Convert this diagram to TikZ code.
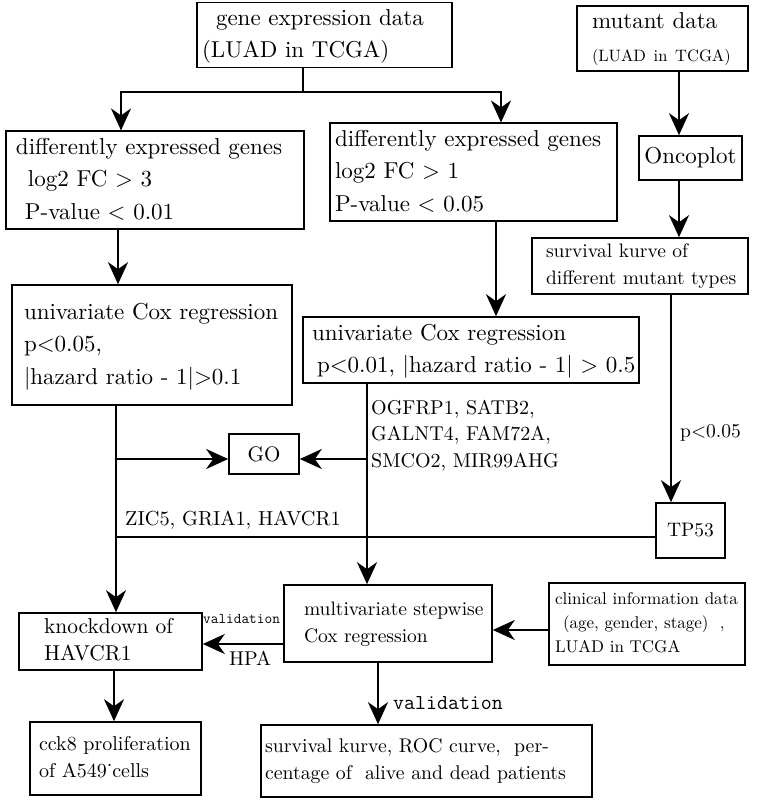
\documentclass[tikz,border=0pt]{standalone}
\usepackage{fontspec}
\setmainfont{lmroman10-regular.otf}
\usetikzlibrary{arrows.meta}
\newcommand\fA{\fontsize{23}{32.5}\selectfont}
\newcommand\fB{\fontsize{19.5}{27}\selectfont}
\newcommand\fC{\fontsize{16.5}{24}\selectfont}
\newcommand\TL[1]{\begin{tabular}{@{}l@{}}#1\end{tabular}}
\newcommand\TLt[1]{\begin{tabular}[t]{@{}l@{}}#1\end{tabular}}
\tikzset{
  box/.style={draw, line width=1.6pt, inner sep=0pt},
  ln/.style={line width=2.6pt},
  arr/.style={line width=2.6pt, -{Stealth[length=22pt,width=20pt,inset=7pt]}},
  lab/.style={inner sep=0pt, anchor=base west}
}
\begin{document}
\begin{tikzpicture}[x=1pt,y=-1pt]
\useasboundingbox (0,0) rectangle (756,804);
% boxes
\node[box, minimum width=255, minimum height=56, text width=245, align=left, font=\fA] (gene) at (324.5,35) {\TL{\hspace{14pt}gene expression data\\(LUAD in TCGA)}};
\node[box, minimum width=298, minimum height=94, text width=278, align=left, font=\fA] (degL) at (155,180) {\TL{differently expressed genes\\\hspace{12pt}log2 FC > 3\\\hspace{9pt}P-value < 0.01}};
\node[box, minimum width=287, minimum height=94, text width=277, align=left, font=\fA] (degR) at (473.5,172) {\TL{differently expressed genes\\log2 FC > 1\\P-value < 0.05}};
\node[box, minimum width=280, minimum height=120, text width=256, align=left, font=\fA] (coxL) at (152,345) {\TL{univariate Cox regression\\p<0.05,\\|hazard ratio - 1|>0.1}};
\node[box, minimum width=336, minimum height=66, text width=318, align=left, font=\fA] (coxR) at (471,350) {\TL{univariate Cox regression\\\hspace{5pt}p<0.01, |hazard ratio - 1| > 0.5}};
\node[box, minimum width=171, minimum height=59, text width=141, align=left, font=\fA] (mut) at (662.5,38.5) {\TL{mutant data\\{\fC(LUAD in TCGA)}}};
\node[box, minimum width=103, minimum height=44, align=center, font=\fA] (onco) at (690.5,158) {Oncoplot};
\node[box, minimum width=216, minimum height=56, text width=188, align=left, font=\fB] (surv) at (640,266) {\TL{survival kurve of\\different mutant types}};
\node[box, minimum width=70, minimum height=40, align=center, font=\fontsize{21}{26}\selectfont] (go) at (264,454) {GO};
\node[box, minimum width=69, minimum height=55, align=center, font=\fB] (tp53) at (690.5,530.5) {TP53};
\node[box, minimum width=208, minimum height=77, text width=168, align=left, font=\fB] (multi) at (388,623.5) {\TL{multivariate stepwise\\Cox regression}};
\node[box, minimum width=196, minimum height=82, text width=184, align=left, font=\fontsize{17}{24}\selectfont] (clin) at (647,624) {\TL{clinical information data\\\hspace{8pt}(age, gender, stage)\ \ ,\\LUAD in TCGA}};
\node[box, minimum width=183, minimum height=57, text width=133, align=left, font=\fontsize{21.5}{27}\selectfont] (knock) at (110.5,641.5) {\TL{knockdown of\\HAVCR1}};
\node[box, minimum width=171, minimum height=73, text width=153, align=left, font=\fontsize{20}{27}\selectfont] (cck) at (115.5,758.5) {\TL{cck8 proliferation\\of A549˙cells}};
\node[box, minimum width=331, minimum height=72, text width=323, align=left, font=\fontsize{19.8}{27}\selectfont] (bot) at (426.5,761) {\TL{survival kurve, ROC curve,\ \ per-\\centage of\ \ alive and dead patients}};
% helper coordinates
\coordinate (jA) at (303,92);
\coordinate (xL) at (121,0);
\coordinate (xR) at (501,0);
\coordinate (x118) at (118,0);
\coordinate (x496) at (496,0);
\coordinate (x679) at (679,0);
\coordinate (x671) at (671,0);
\coordinate (x116) at (116,0);
\coordinate (x367) at (367,0);
\coordinate (x114) at (114,0);
\coordinate (x378) at (378,0);
\coordinate (jGL) at (116,459);
\coordinate (jGR) at (367,459);
\coordinate (jT) at (116,537);
\coordinate (jH) at (284,644);
\coordinate (jC) at (549,630);
% connectors
\draw[ln] (gene.south -| jA) -- (jA);
\draw[arr] (jA) -| (degL.north -| xL);
\draw[arr] (jA) -| (degR.north -| xR);
\draw[arr] (degL.south -| x118) -- (coxL.north -| x118);
\draw[arr] (degR.south -| x496) -- (coxR.north -| x496);
\draw[arr] (mut.south -| x679) -- (onco.north -| x679);
\draw[arr] (onco.south -| x679) -- (surv.north -| x679);
\draw[arr] (surv.south -| x671) -- (tp53.north -| x671);
\draw[arr] (coxL.south -| x116) -- (knock.north -| x116);
\draw[arr] (jGL) -- (jGL -| go.west);
\draw[arr] (coxR.south -| x367) -- (multi.north -| x367);
\draw[arr] (jGR) -- (jGR -| go.east);
\draw[line width=2.2pt] (jT -| tp53.west) -- (jT);
\draw[arr] (jH) -- (jH -| knock.east);
\draw[arr] (jC) -- (jC -| multi.east);
\draw[arr] (knock.south -| x114) -- (cck.north -| x114);
\draw[arr] (multi.south -| x378) -- (bot.north -| x378);
% labels
\node[lab, align=left, font=\fontsize{20}{26.5}\selectfont] (genes) at (371,414) {\TLt{OGFRP1, SATB2,\\GALNT4, FAM72A,\\SMCO2, MIR99AHG}};
\node[lab, font=\fontsize{20.3}{26}\selectfont] (zic) at (125,525) {ZIC5, GRIA1, HAVCR1};
\node[lab, font=\fontsize{19.5}{26}\selectfont] (pval) at (680,437) {p<0.05};
\node[lab, font=\fontsize{14.9}{18}\selectfont\ttfamily] (val1) at (203,623) {validation};
\node[lab, font=\fontsize{20}{26}\selectfont] (hpa) at (229,665) {HPA};
\node[lab, font=\fontsize{21.3}{26}\selectfont\ttfamily] (val2) at (393,709) {validation};
\end{tikzpicture}
\end{document}
